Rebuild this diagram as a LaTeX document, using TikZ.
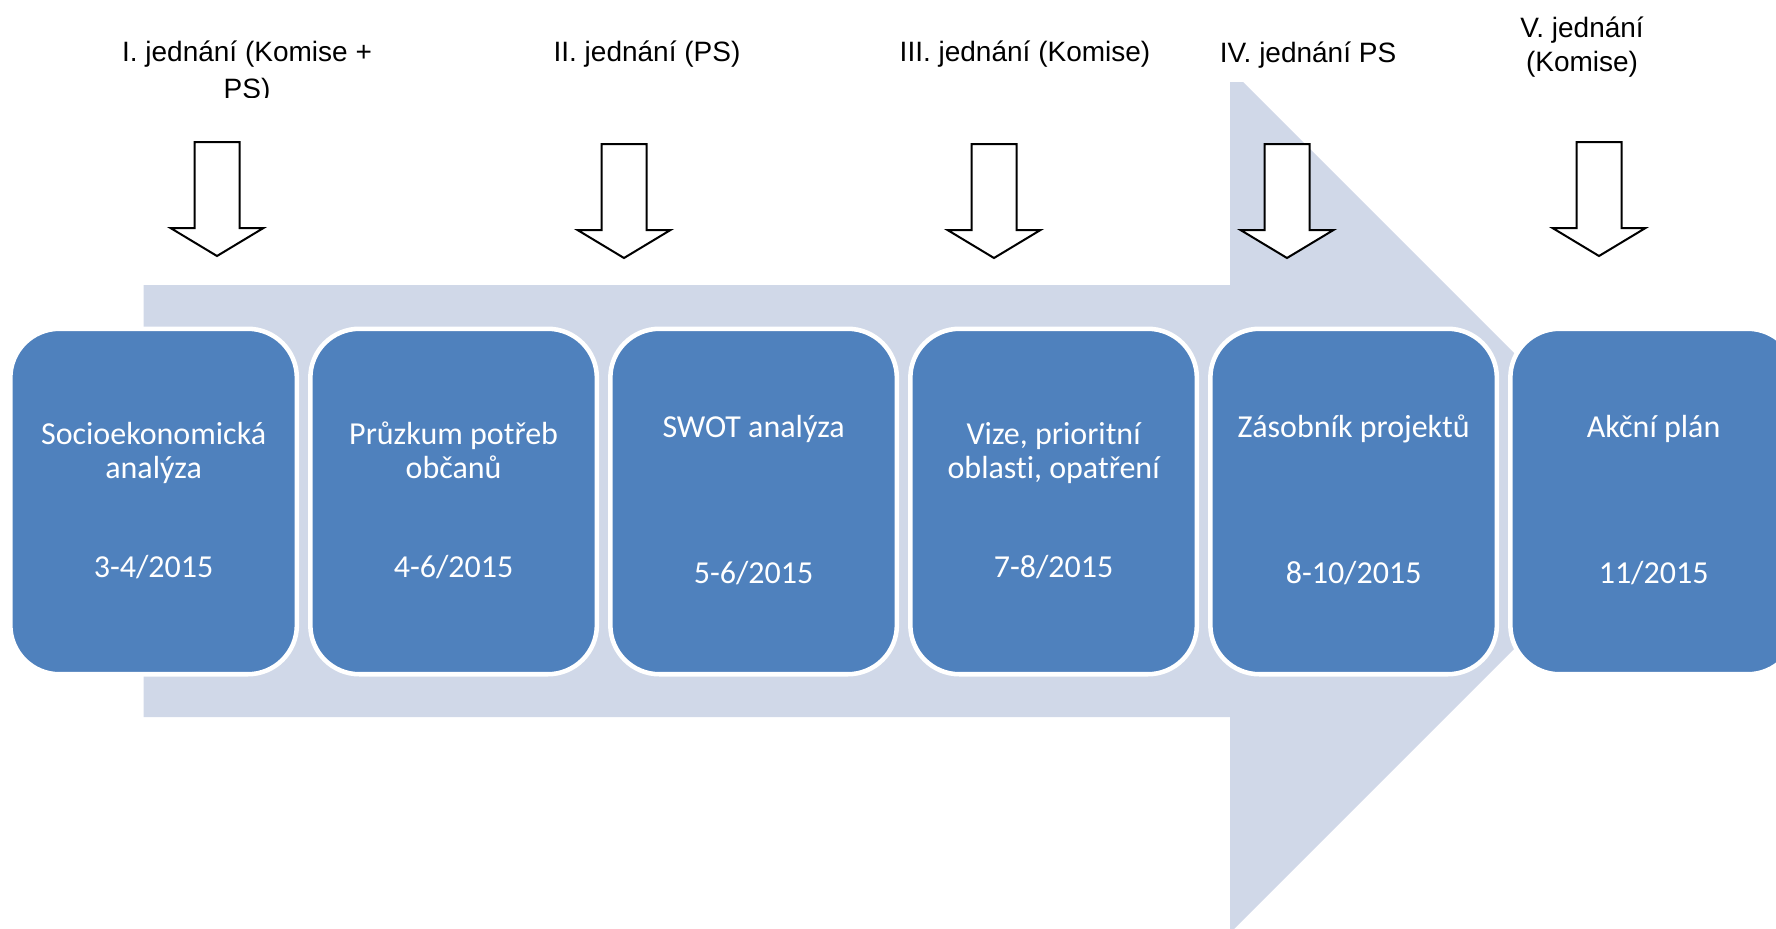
\documentclass[tikz,border=0pt]{standalone}
\usepackage{fontspec}
\setmainfont{Liberation Sans}
\newfontfamily\boxfont[Ligatures={NoCommon}]{Carlito}
\definecolor{bandcol}{HTML}{D0D8E8}
\definecolor{boxcol}{HTML}{4F81BD}
\begin{document}
\begin{tikzpicture}[x=0.75pt,y=-0.75pt,
  stagebox/.style={draw=white, line width=3.4pt, fill=boxcol, rounded corners=36.8pt,
    minimum width=214.9pt, minimum height=259.1pt, inner sep=0pt},
  boxtext/.style={text=white, font=\boxfont\fontsize{24pt}{26pt}\selectfont, anchor=base, inner sep=0pt},
  meeting/.style={text=black, font=\fontsize{21pt}{24pt}\selectfont, anchor=base, inner sep=0pt},
  darrowstyle/.style={draw=black, fill=white, line width=1.5pt, line join=miter}]
\useasboundingbox (0,0) rectangle (1776,928);
\clip (0,0) rectangle (1776,928);
% big background arrow
\fill[bandcol] (143.5,285) -- (1230,285) -- (1230,82) -- (1243,82) -- (1662,501)
  -- (1230,933) -- (1230,717) -- (143.5,717) -- cycle;
% meeting arrows
\foreach \cx/\ty in {217/142, 624/144, 994/144, 1287/144, 1599/142}{
  \draw[darrowstyle] (\cx-22.5,\ty) -- (\cx+22.5,\ty) -- (\cx+22.5,\ty+86)
    -- (\cx+46.5,\ty+86) -- (\cx,\ty+114) -- (\cx-46.5,\ty+86) -- (\cx-22.5,\ty+86) -- cycle;
}
% stage boxes
\node[stagebox] (s1) at (153.6,501.5) {};
\node[stagebox] (s2) at (453.6,501.5) {};
\node[stagebox] (s3) at (753.6,501.5) {};
\node[stagebox] (s4) at (1053.6,501.5) {};
\node[stagebox] (s5) at (1353.6,501.5) {};
\node[stagebox] (s6) at (1653.6,501.5) {};
% box texts
\node[boxtext] (t1a) at (153.6,444) {Socioekonomická};
\node[boxtext] (t1b) at (153.6,478) {analýza};
\node[boxtext] (t1c) at (153.6,577) {3-4/2015};
\node[boxtext] (t2a) at (453.6,444) {Průzkum potřeb};
\node[boxtext] (t2b) at (453.6,478) {občanů};
\node[boxtext] (t2c) at (453.6,577) {4-6/2015};
\node[boxtext] (t3a) at (753.6,437) {SWOT analýza};
\node[boxtext] (t3c) at (753.6,583) {5-6/2015};
\node[boxtext] (t4a) at (1053.6,444) {Vize, prioritní};
\node[boxtext] (t4b) at (1053.6,478) {oblasti, opatření};
\node[boxtext] (t4c) at (1053.6,577) {7-8/2015};
\node[boxtext] (t5a) at (1353.6,437) {Zásobník projektů};
\node[boxtext] (t5c) at (1353.6,583) {8-10/2015};
\node[boxtext] (t6a) at (1653.6,437) {Akční plán};
\node[boxtext] (t6c) at (1653.6,583) {11/2015};
% meeting labels
\node[meeting] (m1a) at (247,61) {I. jednání (Komise +};
\begin{scope}
  \clip (100,0) rectangle (400,97);
  \node[meeting] (m1b) at (247,98) {PS)};
\end{scope}
\node[meeting] (m2) at (647,61) {II. jednání (PS)};
\node[meeting] (m3) at (1025,61) {III. jednání (Komise)};
\node[meeting] (m4) at (1308,62) {IV. jednání PS};
\node[meeting] (m5a) at (1582,37) {V. jednání};
\node[meeting] (m5b) at (1582,71) {(Komise)};
\end{tikzpicture}
\end{document}
